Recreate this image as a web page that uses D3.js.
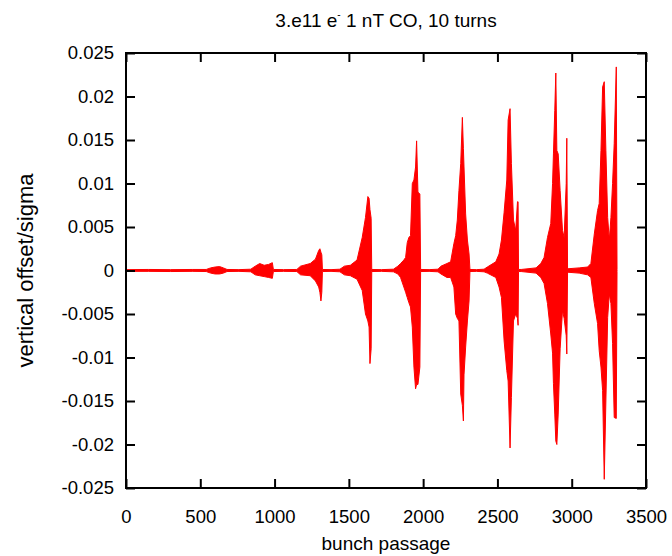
<!DOCTYPE html>
<html>
<head>
<meta charset="utf-8">
<script src="https://cdn.jsdelivr.net/npm/d3@7"></script>
<style>
body { margin: 0; background: #fff; }
text { font-family: "Liberation Sans", Arial, sans-serif; fill: #000; }
</style>
</head>
<body>
<div id="chart"></div>
<script>
// envelope of the signal: bunch passage, max and min offset
var passage = [0, 150, 300, 450, 540, 570, 600, 630, 655, 680, 760, 840, 870, 900, 930, 960, 985, 992,
  1060, 1150, 1175, 1240, 1275, 1297, 1305, 1312, 1318, 1322,
  1380, 1440, 1470, 1510, 1555, 1590, 1612, 1628, 1636, 1642, 1650, 1654,
  1720, 1800, 1830, 1848, 1870, 1882, 1893, 1904, 1915, 1927, 1938, 1949, 1956, 1965, 1978, 1983,
  2040, 2100, 2120, 2160, 2185, 2207, 2219, 2230, 2241, 2253, 2264, 2271, 2275, 2286, 2298, 2309, 2315,
  2360, 2410, 2432, 2489, 2511, 2527, 2545, 2563, 2572, 2585, 2594, 2608, 2623, 2635, 2639, 2642,
  2660, 2760, 2792, 2814, 2837, 2859, 2871, 2877, 2886, 2893, 2900, 2909, 2922, 2938, 2949, 2963, 2967, 2972,
  2975, 3050, 3107, 3129, 3152, 3174, 3185, 3197, 3208, 3219, 3230, 3242, 3253, 3264, 3275, 3286, 3300, 3305];

var upper = [0.0001, 0.00012, 0.0001, 0.00012, 0.00012, 0.0003, 0.0004, 0.00045, 0.0003, 0.00012, 0.0001, 0.00015, 0.0005, 0.0008, 0.0006, 0.0007, 0.0009, 0.00012,
  0.0001, 0.00012, 0.0005, 0.0008, 0.0013, 0.0023, 0.0025, 0.0021, 0.0018, 0.00012,
  0.0001, 0.00015, 0.0005, 0.0006, 0.0012, 0.0038, 0.0061, 0.0085, 0.0083, 0.007, 0.006, 0.00012,
  0.0001, 0.00015, 0.0005, 0.0008, 0.0012, 0.0015, 0.0032, 0.0038, 0.004, 0.01, 0.0104, 0.0119, 0.0149, 0.009, 0.0088, 0.00012,
  0.0001, 0.00015, 0.0005, 0.0008, 0.001, 0.0031, 0.004, 0.0058, 0.0092, 0.0123, 0.0176, 0.014, 0.0119, 0.0065, 0.0035, 0.0019, 0.00012,
  0.0001, 0.00015, 0.0004, 0.001, 0.0019, 0.0035, 0.0067, 0.0104, 0.0173, 0.0186, 0.0123, 0.0058, 0.0046, 0.0079, 0.0079, 0.00012,
  0.00012, 0.0003, 0.0008, 0.0015, 0.0038, 0.0054, 0.01, 0.0134, 0.0184, 0.0227, 0.0138, 0.0134, 0.0092, 0.0046, 0.0038, 0.01, 0.0152, 0.00015,
  0.0002, 0.0003, 0.0004, 0.0008, 0.0042, 0.0069, 0.0077, 0.0138, 0.0211, 0.0217, 0.0138, 0.0061, 0.0035, 0.0061, 0.01, 0.0146, 0.0234, 0.0001];

var lower = [-0.0001, -0.0001, -0.00012, -0.0001, -0.00012, -0.0003, -0.0004, -0.0004, -0.0003, -0.00012, -0.0001, -0.00015, -0.0005, -0.0006, -0.0007, -0.0008, -0.0009, -0.00012,
  -0.0001, -0.00012, -0.0005, -0.0006, -0.0012, -0.0019, -0.0025, -0.0035, -0.0025, -0.00012,
  -0.0001, -0.00015, -0.0005, -0.0006, -0.001, -0.0023, -0.005, -0.0058, -0.0065, -0.0107, -0.009, -0.00012,
  -0.0001, -0.00015, -0.0004, -0.0008, -0.0019, -0.0025, -0.0031, -0.0037, -0.0042, -0.0065, -0.0111, -0.0136, -0.0131, -0.0131, -0.0111, -0.00012,
  -0.0001, -0.00015, -0.0004, -0.0008, -0.0008, -0.0019, -0.005, -0.0055, -0.0058, -0.0142, -0.0155, -0.0173, -0.012, -0.0088, -0.0058, -0.0035, -0.00012,
  -0.0001, -0.00015, -0.0003, -0.0008, -0.0019, -0.0031, -0.0081, -0.0115, -0.0127, -0.0204, -0.0146, -0.0058, -0.005, -0.0055, -0.0063, -0.00012,
  -0.00012, -0.0003, -0.0008, -0.0015, -0.0038, -0.0073, -0.0095, -0.013, -0.0165, -0.0196, -0.02, -0.0165, -0.009, -0.0046, -0.0055, -0.0075, -0.0096, -0.00015,
  -0.0002, -0.0003, -0.0005, -0.0008, -0.0038, -0.0061, -0.0092, -0.0111, -0.0138, -0.024, -0.015, -0.0054, -0.0027, -0.0038, -0.0084, -0.0169, -0.017, -0.0001];

var xTicks = [0, 500, 1000, 1500, 2000, 2500, 3000, 3500];
var yTicks = [-0.025, -0.02, -0.015, -0.01, -0.005, 0, 0.005, 0.01, 0.015, 0.02, 0.025];

var width = 672,
    height = 556,
    margin = {top: 53, right: 26, bottom: 68, left: 126},
    tickLen = 9;

var svg = d3.select("#chart")
    .append("svg")
    .attr("width", width)
    .attr("height", height);

var x = d3.scaleLinear()
    .domain([0, 3500])
    .range([margin.left, width - margin.right]);

var y = d3.scaleLinear()
    .domain([-0.025, 0.025])
    .range([height - margin.bottom, margin.top]);

var fmt = function(d) { return String(+d.toFixed(3)); };

var points = passage.map(function(p, i) {
  return {p: p, hi: upper[i], lo: lower[i]};
});

// the red signal
var area = d3.area()
    .x(d => x(d.p))
    .y0(d => y(d.lo))
    .y1(d => y(d.hi));

svg.append("path")
    .datum(points)
    .attr("d", area)
    .attr("fill", "#ff0000")
    .attr("stroke", "#ff0000")
    .attr("stroke-width", 1)
    .attr("stroke-linejoin", "miter");

// axes, ticks pointing inward on all four sides
svg.append("g")
    .attr("transform", "translate(0," + (height - margin.bottom) + ")")
    .call(d3.axisBottom(x).tickValues(xTicks).tickFormat(d => d)
      .tickSizeInner(-tickLen).tickSizeOuter(0).tickPadding(22));

svg.append("g")
    .attr("transform", "translate(0," + margin.top + ")")
    .call(d3.axisTop(x).tickValues(xTicks).tickFormat("")
      .tickSizeInner(-tickLen).tickSizeOuter(0));

svg.append("g")
    .attr("transform", "translate(" + margin.left + ",0)")
    .call(d3.axisLeft(y).tickValues(yTicks).tickFormat(fmt)
      .tickSizeInner(-tickLen).tickSizeOuter(0).tickPadding(12));

svg.append("g")
    .attr("transform", "translate(" + (width - margin.right) + ",0)")
    .call(d3.axisRight(y).tickValues(yTicks).tickFormat("")
      .tickSizeInner(-tickLen).tickSizeOuter(0));

svg.selectAll(".domain").remove();
svg.selectAll(".tick line").attr("stroke", "#000").attr("stroke-width", 2);
svg.selectAll(".tick text")
    .style("font-family", '"Liberation Sans", Arial, sans-serif')
    .style("font-size", "18.5px")
    .attr("fill", "#000");

// frame
svg.append("rect")
    .attr("x", margin.left)
    .attr("y", margin.top)
    .attr("width", width - margin.left - margin.right)
    .attr("height", height - margin.top - margin.bottom)
    .attr("fill", "none")
    .attr("stroke", "#000")
    .attr("stroke-width", 2);

// title and labels
var title = svg.append("text")
    .attr("x", (margin.left + width - margin.right) / 2)
    .attr("y", 27)
    .attr("text-anchor", "middle")
    .style("font-size", "19px");
title.append("tspan").text("3.e11 e");
title.append("tspan").attr("dy", -9).style("font-size", "10px").text("-");
title.append("tspan").attr("dy", 9).text(" 1 nT CO, 10 turns");

svg.append("text")
    .attr("x", (margin.left + width - margin.right) / 2)
    .attr("y", 550)
    .attr("text-anchor", "middle")
    .style("font-size", "19px")
    .text("bunch passage");

svg.append("text")
    .attr("transform", "translate(33," + ((margin.top + height - margin.bottom) / 2) + ") rotate(-90)")
    .attr("text-anchor", "middle")
    .style("font-size", "22px")
    .text("vertical offset/sigma");
</script>
</body>
</html>
